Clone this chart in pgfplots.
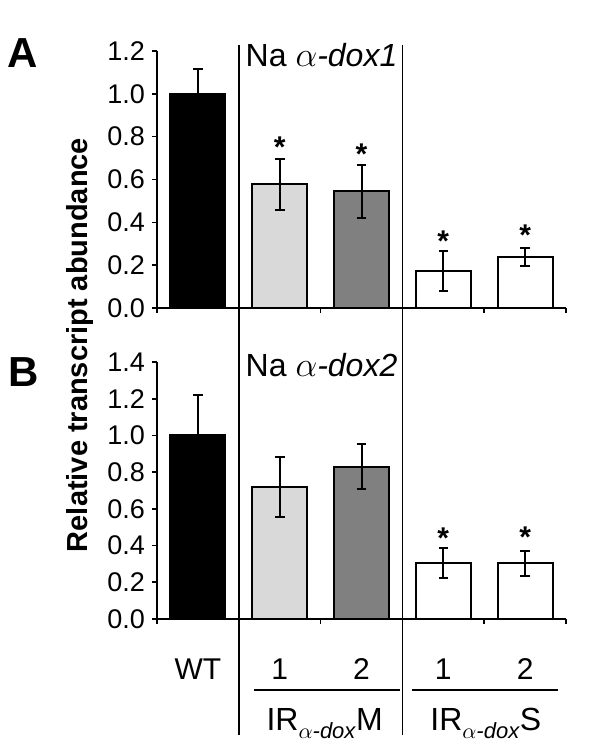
\documentclass[border=0pt]{standalone}
\usepackage{pgfplots}
\pgfplotsset{compat=1.18}
\usepackage{fontspec}
\setmainfont{Liberation Sans}
\definecolor{lightbar}{HTML}{D9D9D9}
\definecolor{darkbar}{HTML}{808080}

\pgfplotsset{
  panel/.style={
    scale only axis, width=204.5pt, height=128.5pt,
    xmin=-0.5, xmax=4.5, ymin=0,
    axis lines=left, axis line style={-, line width=0.8pt},
    tick align=outside, major tick length=2.5pt,
    tick style={line width=0.8pt, black},
    xtick={-0.5,0.5,1.5,2.5,3.5,4.5}, xticklabels={},
    /pgf/number format/assume math mode=true,
    yticklabel style={/pgf/number format/.cd, fixed, fixed zerofill, precision=1, /tikz/.cd, font=\fontsize{13.5}{15}\selectfont},
    clip=false,
  },
  onebar/.style={ybar, bar width=27.5pt, bar shift=0pt, draw=black, line width=1pt,
    error bars/y dir=both, error bars/y explicit,
    error bars/error bar style={line width=1pt, black},
    error bars/error mark=-,
    error bars/error mark options={rotate=90, line width=1pt, mark size=2.4pt, black}},
}
\tikzset{sigstar/.style={font=\fontsize{15}{15}\selectfont\bfseries, anchor=base, yshift=-8.5pt, inner sep=0pt},
  catlab/.style={font=\fontsize{15}{15}\selectfont, inner sep=0pt},
  grplab/.style={font=\fontsize{16}{16}\selectfont, inner sep=0pt},
  natitle/.style={anchor=west, font=\fontsize{16}{16}\selectfont, inner sep=0pt}}

\begin{document}
\begin{tikzpicture}
\useasboundingbox (0,0) rectangle (300pt,377pt);

% Panel A
\begin{axis}[panel, at={(78.5pt,223pt)}, anchor=south west, ymax=1.2,
  ytick={0,0.2,0.4,0.6,0.8,1.0,1.2}]
\addplot[onebar, fill=black] coordinates {(0,1.0) +- (0,0.115)};
\addplot[onebar, fill=lightbar] coordinates {(1,0.578) +- (0,0.12)};
\addplot[onebar, fill=darkbar] coordinates {(2,0.545) +- (0,0.124)};
\addplot[onebar, fill=white] coordinates {(3,0.173) +- (0,0.094)};
\addplot[onebar, fill=white] coordinates {(4,0.238) +- (0,0.043)};
\node[sigstar] at (axis cs:1,0.78) {*};
\node[sigstar] at (axis cs:2,0.75) {*};
\node[sigstar] at (axis cs:3,0.345) {*};
\node[sigstar] at (axis cs:4,0.37) {*};
\node[natitle] at (axis cs:0.58,1.18) {Na $\alpha$\textit{-dox1}};
\end{axis}

% Panel B
\begin{axis}[panel, at={(78.5pt,67.5pt)}, anchor=south west, ymax=1.4,
  ytick={0,0.2,0.4,0.6,0.8,1.0,1.2,1.4}]
\addplot[onebar, fill=black] coordinates {(0,1.0) +- (0,0.22)};
\addplot[onebar, fill=lightbar] coordinates {(1,0.717) +- (0,0.164)};
\addplot[onebar, fill=darkbar] coordinates {(2,0.83) +- (0,0.124)};
\addplot[onebar, fill=white] coordinates {(3,0.303) +- (0,0.082)};
\addplot[onebar, fill=white] coordinates {(4,0.303) +- (0,0.069)};
\node[sigstar] at (axis cs:3,0.475) {*};
\node[sigstar] at (axis cs:4,0.48) {*};
\node[natitle] at (axis cs:0.58,1.383) {Na $\alpha$\textit{-dox2}};
% separators
\draw[line width=0.8pt] (axis cs:0.5,-0.632) -- (axis cs:0.5,3.126);
\draw[line width=0.8pt] (axis cs:2.5,-0.632) -- (axis cs:2.5,3.126);
% category labels
\node[catlab] at (axis cs:0,-0.272) {WT};
\node[catlab] at (axis cs:1,-0.272) {1};
\node[catlab] at (axis cs:2,-0.272) {2};
\node[catlab] at (axis cs:3,-0.272) {1};
\node[catlab] at (axis cs:4,-0.272) {2};
\draw[line width=0.6pt] (axis cs:0.686,-0.387) -- (axis cs:2.47,-0.387);
\draw[line width=0.6pt] (axis cs:2.617,-0.387) -- (axis cs:4.40,-0.387);
\node[grplab] at (axis cs:1.55,-0.57) {IR\raisebox{-0.45ex}{\fontsize{11}{11}\selectfont$\alpha$\textit{-dox}}M};
\node[grplab] at (axis cs:3.52,-0.57) {IR\raisebox{-0.45ex}{\fontsize{11}{11}\selectfont$\alpha$\textit{-dox}}S};
\end{axis}

\node[font=\fontsize{21}{21}\selectfont\bfseries, inner sep=0pt] at (11.5pt,350.5pt) {A};
\node[font=\fontsize{21}{21}\selectfont\bfseries, inner sep=0pt] at (12pt,191pt) {B};
\node[font=\fontsize{14.5}{14.5}\selectfont\bfseries, rotate=90, inner sep=0pt] at (40pt,204.5pt) {Relative transcript abundance};
\end{tikzpicture}
\end{document}
